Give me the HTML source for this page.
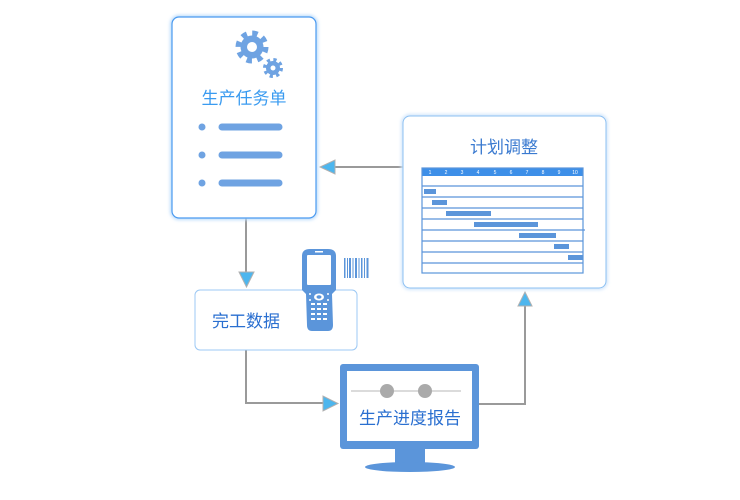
<!DOCTYPE html>
<html><head><meta charset="utf-8"><style>
html,body{margin:0;padding:0;background:#fff;}
svg{display:block;font-family:"Liberation Sans","Noto Sans CJK SC",sans-serif;}
</style></head><body>
<svg width="740" height="500" viewBox="0 0 740 500" xmlns="http://www.w3.org/2000/svg">
<defs>
<filter id="sh" x="-10%" y="-10%" width="120%" height="120%"><feGaussianBlur stdDeviation="1.5"/></filter>
</defs>
<g stroke="#9a9a9a" stroke-width="2" fill="none">
<line x1="246" y1="218" x2="246" y2="272"/>
<line x1="410" y1="167" x2="335" y2="167"/>
<polyline points="246,350 246,403 323,403"/>
<polyline points="479,404 525,404 525,306"/>
</g>
<g fill="#4db6ee" stroke="#b0b0b0" stroke-width="1">
<polygon points="239,272 254,272 246.5,287"/>
<polygon points="335,160 335,174 320,167"/>
<polygon points="323,396 323,411 338,403.5"/>
<polygon points="518,306 532,306 525,292"/>
</g>
<rect x="172" y="17" width="144" height="201" rx="7" fill="#fff" stroke="#bcdcfb" stroke-width="4" filter="url(#sh)"/>
<rect x="172" y="17" width="144" height="201" rx="7" fill="#fff" stroke="#4a9af0" stroke-width="1.2"/>
<g fill="#6fa3e2">
<circle cx="252" cy="47" r="11.5"/>
<circle cx="252" cy="47" r="13.5" fill="none" stroke="#6fa3e2" stroke-width="6" stroke-dasharray="5.3 5.3"/>
<circle cx="252" cy="47" r="5" fill="#fff"/>
<circle cx="273" cy="68" r="7"/>
<circle cx="273" cy="68" r="8" fill="none" stroke="#6fa3e2" stroke-width="4" stroke-dasharray="3.1 3.2"/>
<circle cx="273" cy="68" r="2.5" fill="#fff"/>
</g>
<text x="244" y="104" text-anchor="middle" font-size="17" fill="#3a9bf0">生产任务单</text>
<g fill="#6fa3e2"><circle cx="202" cy="127" r="3.5"/><circle cx="202" cy="155" r="3.5"/><circle cx="202" cy="183" r="3.5"/></g>
<g stroke="#6fa3e2" stroke-width="7" stroke-linecap="round"><line x1="222" y1="127" x2="279" y2="127"/><line x1="222" y1="155" x2="279" y2="155"/><line x1="222" y1="183" x2="279" y2="183"/></g>
<rect x="403" y="116" width="203" height="172" rx="7" fill="#fff" stroke="#d2e6fb" stroke-width="4" filter="url(#sh)"/>
<rect x="403" y="116" width="203" height="172" rx="7" fill="#fff" stroke="#8cc0f2" stroke-width="1"/>
<text x="504" y="153" text-anchor="middle" font-size="17" fill="#3a7ad0">计划调整</text>
<rect x="422" y="168" width="161" height="8" fill="#3d8fe8"/>
<g font-size="5" fill="#fff" text-anchor="middle">
<text x="430" y="174">1</text><text x="446" y="174">2</text><text x="462" y="174">3</text><text x="478" y="174">4</text><text x="495" y="174">5</text><text x="511" y="174">6</text><text x="527" y="174">7</text><text x="543" y="174">8</text><text x="559" y="174">9</text><text x="575" y="174">10</text>
</g>
<g stroke="#5b95da" stroke-width="1.2" fill="none">
<rect x="422" y="168" width="161" height="105"/>
<line x1="422" y1="186" x2="583" y2="186"/><line x1="422" y1="197" x2="583" y2="197"/><line x1="422" y1="208" x2="583" y2="208"/><line x1="422" y1="219" x2="583" y2="219"/><line x1="422" y1="230" x2="585" y2="230"/><line x1="422" y1="241" x2="583" y2="241"/><line x1="422" y1="252" x2="583" y2="252"/><line x1="422" y1="263" x2="583" y2="263"/>
</g>
<g fill="#5b95da">
<rect x="424" y="189" width="12" height="5"/><rect x="432" y="200" width="15" height="5"/><rect x="446" y="211" width="45" height="5"/><rect x="474" y="222" width="64" height="5"/><rect x="519" y="233" width="37" height="5"/><rect x="554" y="244" width="15" height="5"/><rect x="568" y="255" width="15" height="5"/>
</g>
<rect x="195" y="290" width="162" height="60" rx="5" fill="#fff" stroke="#9cc8f4" stroke-width="1"/>
<text x="212" y="327" font-size="17" fill="#2a6fd0">完工数据</text>
<path d="M302,256 Q302,249 310,249 L328,249 Q336,249 336,256 L336,290 L332,294 L333,325 Q333,331 328,331 L312,331 Q307,331 307,325 L306,294 L302,290 Z" fill="#5b95da"/>
<rect x="307" y="255" width="24" height="30" rx="1" fill="#fff"/>
<rect x="315" y="251" width="8" height="1.5" fill="#fff"/>
<ellipse cx="319" cy="297" rx="5" ry="3.5" fill="#fff"/><ellipse cx="319" cy="297" rx="2.5" ry="1.7" fill="#5b95da"/>
<g fill="#fff">
<rect x="311" y="303" width="4" height="2"/><rect x="317" y="303" width="4" height="2"/><rect x="323" y="303" width="4" height="2"/>
<rect x="311" y="308" width="4" height="2"/><rect x="317" y="308" width="4" height="2"/><rect x="323" y="308" width="4" height="2"/>
<rect x="311" y="313" width="4" height="2"/><rect x="317" y="313" width="4" height="2"/><rect x="323" y="313" width="4" height="2"/>
<rect x="311" y="318" width="4" height="2"/><rect x="317" y="318" width="4" height="2"/><rect x="323" y="318" width="4" height="2"/>
<circle cx="310" cy="294" r="1"/><circle cx="328" cy="294" r="1"/><circle cx="310" cy="300" r="1"/><circle cx="328" cy="300" r="1"/>
</g>
<g fill="#5b95da">
<rect x="344" y="258" width="1.5" height="20"/><rect x="347" y="258" width="1" height="20"/><rect x="349" y="258" width="2" height="20"/><rect x="352.5" y="258" width="1" height="20"/><rect x="355" y="258" width="2" height="20"/><rect x="358.5" y="258" width="1" height="20"/><rect x="361" y="258" width="1.5" height="20"/><rect x="364" y="258" width="1" height="20"/><rect x="366.5" y="258" width="2" height="20"/>
</g>
<rect x="340" y="364" width="139" height="85" rx="3" fill="#5b95da"/>
<rect x="347" y="371" width="125" height="70" fill="#fff"/>
<rect x="395" y="448" width="30" height="15" fill="#5b95da"/>
<ellipse cx="410" cy="467" rx="45" ry="5" fill="#5b95da"/>
<line x1="351" y1="391" x2="461" y2="391" stroke="#cfcfcf" stroke-width="1.5"/>
<circle cx="387" cy="391" r="7" fill="#aaa"/><circle cx="425" cy="391" r="7" fill="#aaa"/>
<text x="410" y="424" text-anchor="middle" font-size="17" fill="#2a6fd0">生产进度报告</text>
</svg>
</body></html>
